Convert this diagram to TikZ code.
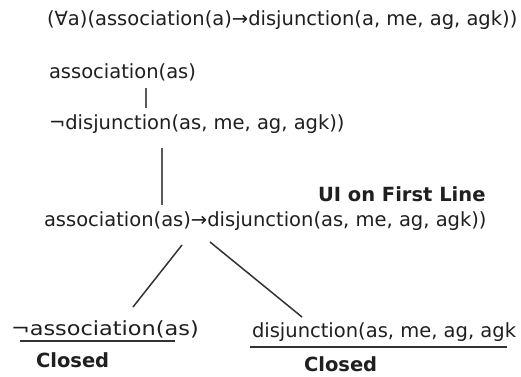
\documentclass[tikz,border=0pt]{standalone}
\usepackage{fontspec}
\setmainfont{DejaVu Sans}
\usepackage{graphicx}
\begin{document}
\begin{tikzpicture}[x=1pt,y=-1pt,
  txt/.style={anchor=base west,inner sep=0pt,outer sep=0pt,text=black!88,font=\fontsize{19.5}{23}\selectfont},
  btxt/.style={txt,font=\fontsize{19.5}{23}\selectfont\bfseries},
  vline/.style={draw=black!65,line width=2pt},
  branch/.style={draw=black!80,line width=1.5pt},
  uline/.style={draw=black!80,line width=2pt}]
\useasboundingbox[fill=white] (0,0) rectangle (521,376);
\node[txt] (top) at (47,25) {(∀a)(association(a)→disjunction(a, me, ag, agk))};
\node[txt] (as) at (49,78) {association(as)};
\node[txt] (nd) at (49,129.5) {¬disjunction(as, me, ag, agk))};
\node[btxt] (ui) at (318,201.5) {UI on First Line};
\node[txt] (imp) at (44,226.5) {association(as)→disjunction(as, me, ag, agk))};
\node[txt] (na) at (11,335) {\scalebox{1.15}[1]{¬association(as)}};
\node[btxt] (cl) at (36,367) {Closed};
\node[txt] (dj) at (252,337) {disjunction(as, me, ag, agk};
\node[btxt] (cr) at (304,371.5) {Closed};
% connector ends
\coordinate (v1a) at (146,88);
\coordinate (v1b) at (146,108);
\coordinate (v2a) at (162,148);
\coordinate (v2b) at (162,205);
\coordinate (la) at (182,245);
\coordinate (lb) at (133,307);
\coordinate (ra) at (210,242);
\coordinate (rb) at (302,317);
\coordinate (ula) at (20,341);
\coordinate (ulb) at (175,341);
\coordinate (ura) at (250,347);
\coordinate (urb) at (507,347);
\draw[vline] (v1a) -- (v1b);
\draw[vline] (v2a) -- (v2b);
\draw[branch] (la) -- (lb);
\draw[branch] (ra) -- (rb);
\draw[uline] (ula) -- (ulb);
\draw[uline] (ura) -- (urb);
\end{tikzpicture}
\end{document}
